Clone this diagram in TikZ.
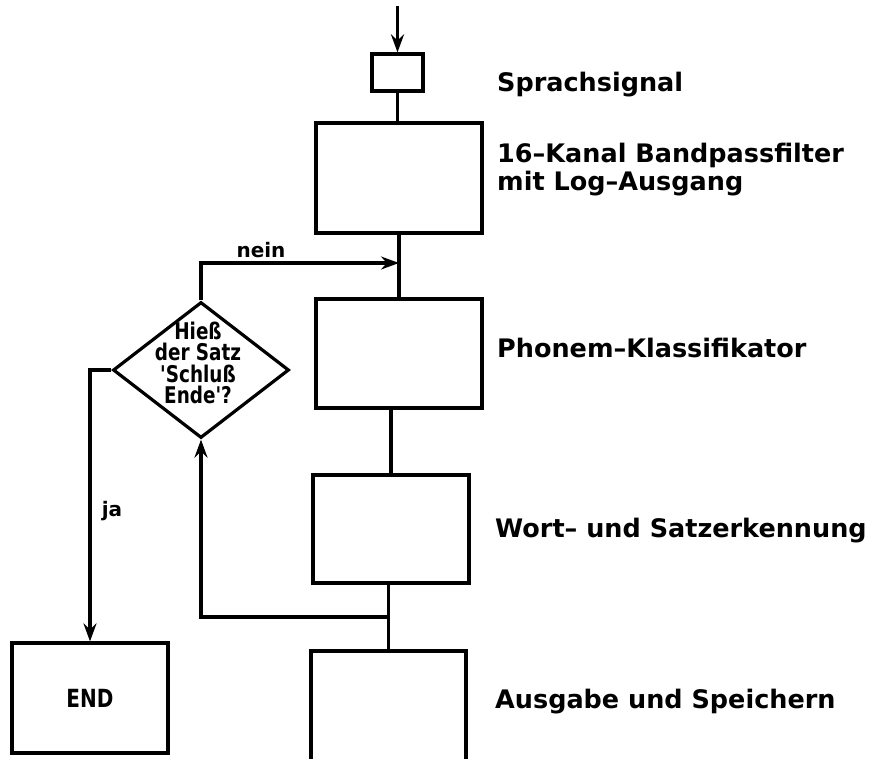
\documentclass[tikz,border=0pt]{standalone}
\usepackage{fontspec}
\newfontfamily\plotfont{DejaVu Sans}
\newfontfamily\plotnarrow[FakeStretch=0.8]{DejaVu Sans}
\usetikzlibrary{shapes.geometric,arrows.meta}
\begin{document}
\begin{tikzpicture}[x=1pt,y=-1pt,
  box/.style={draw,line width=3.2pt,inner sep=0pt},
  ln/.style={line width=3.2pt},
  arr/.style={line width=3.2pt,-{Stealth[length=18pt,width=13pt,inset=6pt]}},
  dia/.style={draw,diamond,line width=3.2pt,inner sep=0pt,minimum width=176pt,minimum height=136pt},
  lbl/.style={font=\plotfont\bfseries\fontsize{25.5}{30}\selectfont,anchor=base west,inner sep=0pt},
  dtext/.style={font=\plotnarrow\bfseries\fontsize{23}{21.5}\selectfont,align=center,inner sep=0pt},
  small/.style={font=\plotfont\bfseries\fontsize{20}{22}\selectfont,anchor=base,inner sep=0pt}]
\clip (0,0) rectangle (873,758);
\fill[white] (0,0) rectangle (873,758);
% boxes
\node[box,minimum width=51pt,minimum height=37pt] (b0) at (397.5,72.5) {};
\node[box,minimum width=166pt,minimum height=110pt] (b1) at (399,178) {};
\node[box,minimum width=166pt,minimum height=109pt] (b2) at (399,353.5) {};
\node[box,minimum width=156pt,minimum height=108pt] (b3) at (391,529) {};
\node[box,minimum width=155pt,minimum height=112pt] (b4) at (388.5,707) {};
\node[box,minimum width=156pt,minimum height=110pt,font=\plotnarrow\bfseries\fontsize{25}{28}\selectfont] (e) at (90,698) {END};
\node[dia] (d) at (201,370) {};
\node[dtext] (dt) at (198,363) {Hieß\\der Satz\\'Schluß\\Ende'?};
% coordinates
\coordinate (in) at (397.5,6);
\coordinate (j1) at (399,263);
\coordinate (j2) at (388.5,617);
% connectors
\draw[arr] (in) -- (b0.north);
\draw[ln] (b0.south) -- (b0.south |- b1.north);
\draw[ln] (b1.south) -- (b2.north);
\draw[arr] (d.north) |- (j1);
\draw[ln] (b3.north |- b2.south) -- (b3.north);
\draw[ln] (b4.north |- b3.south) -- (b4.north);
\draw[arr] (j2) -| (d.south);
\draw[arr] (d.west) -| (e.north);
% labels
\node[small] (nein) at (261,257) {nein};
\node[small] (ja) at (112,516) {ja};
\node[lbl] (t0) at (497,91) {Sprachsignal};
\node[lbl] (t1a) at (497,162) {16–Kanal Bandpassfilter};
\node[lbl] (t1b) at (497,190) {mit Log–Ausgang};
\node[lbl] (t2) at (497,357) {Phonem–Klassifikator};
\node[lbl] (t3) at (495,537) {Wort– und Satzerkennung};
\node[lbl] (t4) at (495,708) {Ausgabe und Speichern};
\end{tikzpicture}
\end{document}
